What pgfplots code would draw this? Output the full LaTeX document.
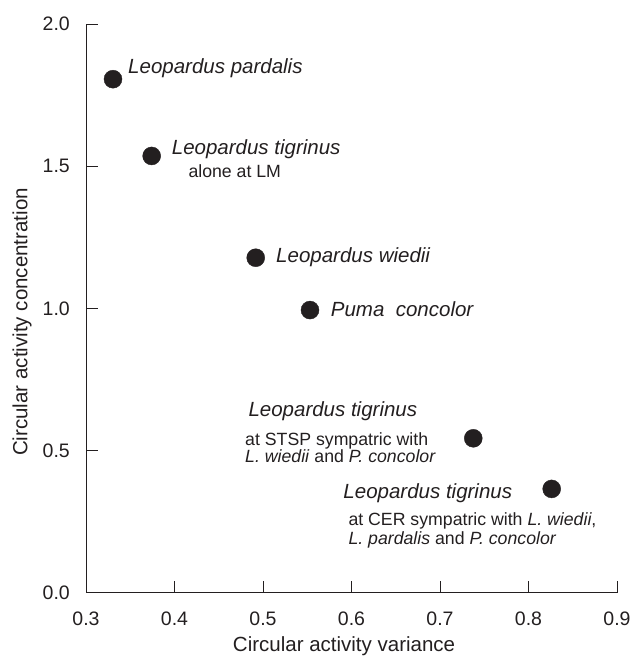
\documentclass[border=0pt]{standalone}
\usepackage{fontspec}
\setmainfont{Liberation Sans}
\usepackage{pgfplots}
\pgfplotsset{compat=1.18}
\definecolor{ink}{HTML}{231F20}
\newcommand{\bigsz}{\fontsize{20.5}{24}\selectfont}
\newcommand{\subsz}{\fontsize{17.7}{21}\selectfont}
\begin{document}
\begin{tikzpicture}[x=1pt,y=1pt]
\useasboundingbox (0,0) rectangle (632,656);
\begin{axis}[
  at={(86pt,63.3pt)}, anchor=south west,
  scale only axis, width=531pt, height=568.7pt,
  xmin=0.3, xmax=0.9, ymin=0, ymax=2,
  axis lines=left, axis line style={-, line width=0.8pt, color=ink},
  xtick={0.3,0.4,0.5,0.6,0.7,0.8,0.9},
  ytick={0,0.5,1.0,1.5,2.0},
  tick align=inside, major tick length=12pt,
  tick style={line width=0.8pt, color=ink},
  /pgf/number format/fixed,
  /pgf/number format/fixed zerofill,
  /pgf/number format/precision=1,
  /pgf/number format/assume math mode=true,
  ticklabel style={font=\fontsize{19.5}{23}\selectfont, text=ink},
  xticklabel style={anchor=base, yshift=-33pt},
  yticklabel style={anchor=east, inner sep=0pt, xshift=-16pt},
  xlabel={Circular activity variance},
  ylabel={Circular activity concentration},
  label style={font=\bigsz, text=ink, inner sep=0pt},
  xlabel style={at={(axis description cs:0.486,-0.1037)}, anchor=base},
  ylabel style={at={(axis description cs:-0.1102,0.476)}, anchor=base},
  clip=false,
]
\addplot[only marks, mark=*, mark size=9pt, color=ink, fill=ink] coordinates {
  (0.3305,1.806)
  (0.3742,1.536)
  (0.4918,1.178)
  (0.5531,0.994)
  (0.7376,0.543)
  (0.8262,0.365)
};
\begin{scope}[every node/.style={anchor=base west, inner sep=0pt, text=ink}]
\node[font=\bigsz\itshape] at (axis cs:0.3475,1.8266) {Leopardus pardalis};
\node[font=\bigsz\itshape] at (axis cs:0.3968,1.5428) {Leopardus tigrinus};
\node[font=\subsz] at (axis cs:0.4156,1.4609) {alone at LM};
\node[font=\bigsz\itshape] at (axis cs:0.5147,1.1606) {Leopardus wiedii};
\node[font=\bigsz\itshape] at (axis cs:0.5765,0.9706) {Puma\ \ concolor};
\node[font=\bigsz\itshape] at (axis cs:0.4834,0.619) {Leopardus tigrinus};
\node[font=\subsz] at (axis cs:0.4797,0.5194) {at STSP sympatric with};
\node[font=\subsz] at (axis cs:0.4797,0.4572) {\textit{L. wiedii} and \textit{P. concolor}};
\node[font=\bigsz\itshape] at (axis cs:0.5907,0.332) {Leopardus tigrinus};
\node[font=\subsz] at (axis cs:0.5964,0.2346) {at CER sympatric with \textit{L. wiedii},};
\node[font=\subsz] at (axis cs:0.5964,0.1702) {\textit{L. pardalis} and \textit{P. concolor}};
\end{scope}
\end{axis}
\end{tikzpicture}
\end{document}
